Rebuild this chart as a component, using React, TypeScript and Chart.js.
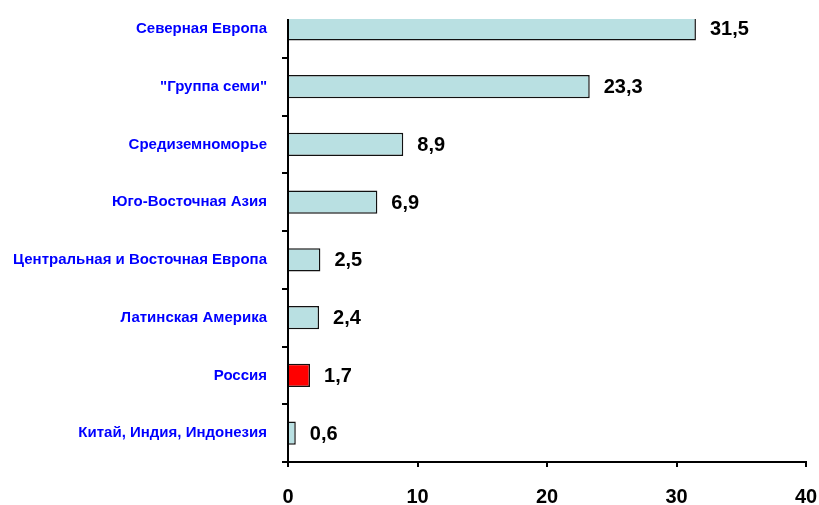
import React, { useEffect, useRef } from "react";
import { Chart, registerables } from "chart.js";

Chart.register(...registerables);

const categories = [
  "Северная Европа",
  "\"Группа семи\"",
  "Средиземноморье",
  "Юго-Восточная Азия",
  "Центральная и Восточная Европа",
  "Латинская Америка",
  "Россия",
  "Китай, Индия, Индонезия",
];
const values = [31.5, 23.3, 8.9, 6.9, 2.5, 2.4, 1.7, 0.6];
const highlightCategory = "Россия";
const xTicks = [0, 10, 20, 30, 40];

const BAR_COLOR = "#b9e0e2";
const HIGHLIGHT_COLOR = "#ff0000";

const valueLabels = {
  id: "valueLabels",
  afterDatasetsDraw(chart: any) {
    const ctx = chart.ctx;
    const meta = chart.getDatasetMeta(0);
    ctx.save();
    ctx.font = "bold 20px 'Liberation Sans', Arial, sans-serif";
    ctx.fillStyle = "#000";
    ctx.textAlign = "left";
    ctx.textBaseline = "middle";
    meta.data.forEach((bar: any, i: number) => {
      const txt = values[i].toFixed(1).replace(".", ",");
      ctx.fillText(txt, bar.x + 14, bar.y + 1);
    });
    ctx.restore();
  },
};

const topMask = {
  id: "topMask",
  afterDraw(chart: any) {
    const ctx = chart.ctx;
    ctx.save();
    ctx.fillStyle = "#fff";
    ctx.fillRect(272, 0, 430, 19);
    ctx.restore();
  },
};

export default function App() {
  const ref = useRef<HTMLCanvasElement | null>(null);
  useEffect(() => {
    if (!ref.current) return;
    const chart = new Chart(ref.current, {
      type: "bar",
      data: {
        labels: categories,
        datasets: [
          {
            data: values,
            backgroundColor: categories.map((c) =>
              c === highlightCategory ? HIGHLIGHT_COLOR : BAR_COLOR
            ),
            borderColor: "#111",
            borderWidth: 1.5,
            barPercentage: 0.4,
            categoryPercentage: 1,
          },
        ],
      },
      options: {
        indexAxis: "y",
        responsive: false,
        animation: false,
        layout: { padding: { left: 0, right: 13, top: 0, bottom: 0 } },
        plugins: {
          legend: { display: false },
          tooltip: { enabled: false },
        },
        scales: {
          x: {
            min: 0,
            max: 40,
            afterBuildTicks: (scale: any) => {
              scale.ticks = xTicks.map((v) => ({ value: v }));
            },
            afterFit: (scale: any) => {
              scale.height = 43;
              scale.paddingLeft = 0;
              scale.paddingRight = 0;
              scale.paddingTop = 0;
              scale.paddingBottom = 0;
            },
            border: { display: true, color: "#000", width: 2 },
            grid: {
              display: true,
              drawOnChartArea: false,
              drawTicks: true,
              tickLength: 5,
              color: "#000",
              lineWidth: 2,
            },
            ticks: {
              color: "#000",
              padding: 18,
              font: { family: "'Liberation Sans', Arial, sans-serif", size: 20, weight: "bold" },
              maxRotation: 0,
            },
          },
          y: {
            afterFit: (scale: any) => {
              scale.width = 288;
              scale.paddingLeft = 0;
              scale.paddingRight = 0;
              scale.paddingTop = 0;
              scale.paddingBottom = 0;
            },
            border: { display: true, color: "#000", width: 2 },
            grid: {
              display: true,
              offset: true,
              drawOnChartArea: false,
              drawTicks: true,
              tickLength: 6,
              color: "#000",
              lineWidth: 2,
            },
            ticks: {
              color: "#0000ff",
              padding: 15,
              font: { family: "'Liberation Sans', Arial, sans-serif", size: 15, weight: "bold" },
            },
          },
        },
      },
      plugins: [valueLabels, topMask],
    });
    return () => chart.destroy();
  }, []);
  return (
    <div style={{ position: "absolute", left: 0, top: 0, width: 819, height: 505, background: "#fff" }}>
      <canvas ref={ref} width={819} height={505} />
    </div>
  );
}
